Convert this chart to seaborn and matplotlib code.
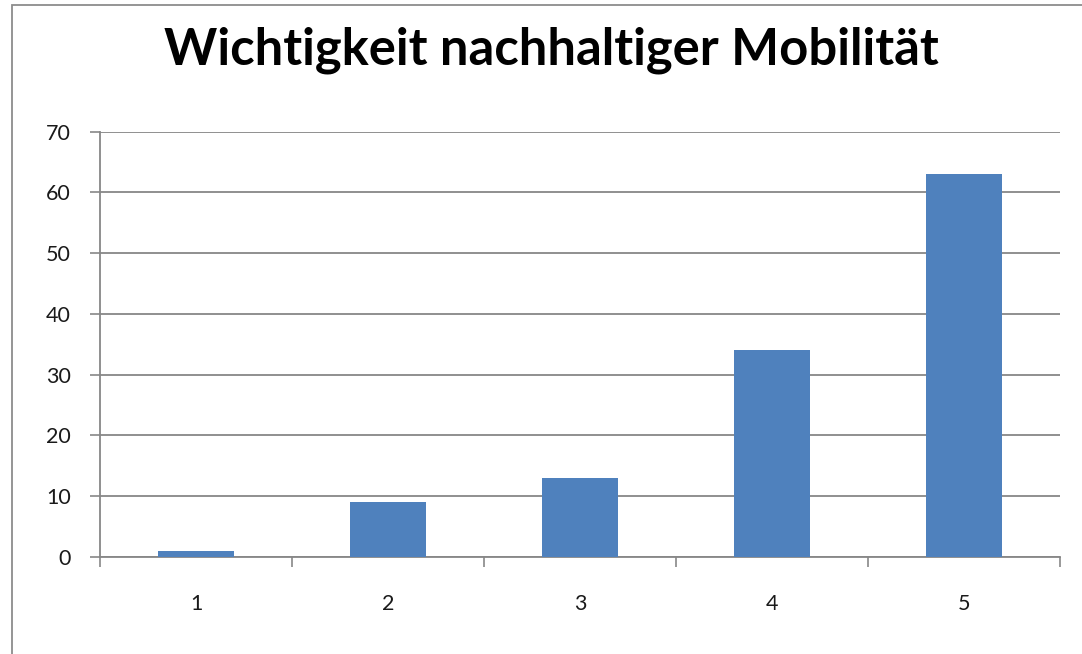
import matplotlib
matplotlib.use('Agg')
import matplotlib.pyplot as plt
import matplotlib.patches as patches
import pandas as pd
import seaborn as sns

# Werte
kategorien = ['1', '2', '3', '4', '5']
werte = [1, 9, 13, 34, 63]
y_ticks = [0, 10, 20, 30, 40, 50, 60, 70]
titel = 'Wichtigkeit nachhaltiger Mobilität'

df = pd.DataFrame({'stufe': kategorien, 'anzahl': werte})

sns.set_style('white')
plt.rcParams['font.family'] = ['Lato', 'DejaVu Sans']

fig = plt.figure(figsize=(10.82, 6.54), dpi=100)
ax = fig.add_axes([100 / 1082, 1 - 557 / 654, 960 / 1082, (557 - 131.7) / 654])

sns.barplot(data=df, x='stufe', y='anzahl', color='#4F81BD', saturation=1,
            width=0.4, linewidth=0, ax=ax, zorder=3)

ax.set_xlim(-0.5, 4.5)
ax.set_ylim(0, 70)
ax.set_yticks(y_ticks)
ax.set_yticklabels([str(t) for t in y_ticks])
ax.grid(axis='y', color='#878787', linewidth=1.3, zorder=0)
ax.set_axisbelow(True)
ax.set_xlabel('')
ax.set_ylabel('')

for s in ['top', 'right']:
    ax.spines[s].set_visible(False)
for s in ['left', 'bottom']:
    ax.spines[s].set_color('#878787')
    ax.spines[s].set_linewidth(1.3)

# Kategoriegrenzen als Teilstriche wie bei Excel
ax.set_xticks([i - 0.5 for i in range(len(kategorien) + 1)], minor=True)
ax.tick_params(axis='x', which='minor', length=7, width=1.2, color='#878787', direction='out', bottom=True)
ax.tick_params(axis='x', which='major', length=0, pad=27, labelsize=15.5, labelcolor='#1a1a1a')
ax.tick_params(axis='y', which='major', length=7, width=1.2, color='#878787', direction='out',
               left=True, pad=14, labelsize=15.5, labelcolor='#1a1a1a')

fig.text(551 / 1082, 1 - 65 / 654, titel, ha='center', va='baseline',
         fontsize=36.5, fontweight='bold', color='black')

# Rahmen des Diagrammbereichs
rahmen = patches.Rectangle((12 / 1082, -0.05), 1.2, 1 - 5 / 654 + 0.05, transform=fig.transFigure,
                           fill=False, edgecolor='#8c8c8c', linewidth=1.3)
fig.patches.append(rahmen)

plt.savefig('out.png', dpi=100)
